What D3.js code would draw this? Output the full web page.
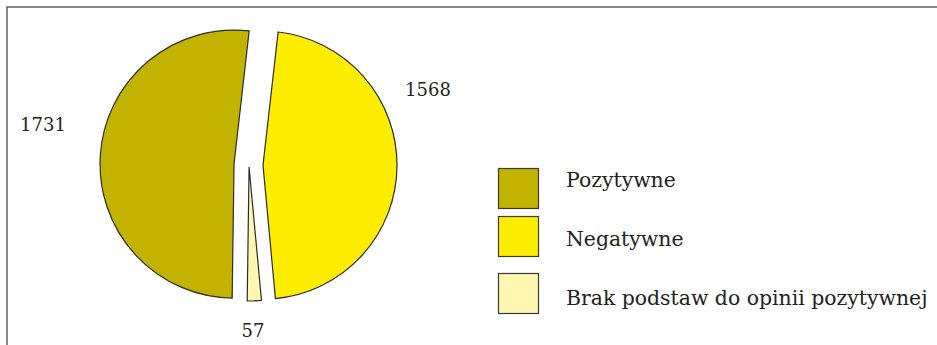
<!DOCTYPE html>
<html>
<head>
<meta charset="utf-8">
<script src="https://cdn.jsdelivr.net/npm/d3@7"></script>
<style>
  html, body { margin: 0; padding: 0; background: #fff; }
  svg { display: block; }
</style>
</head>
<body>
<svg id="chart" width="937" height="345"></svg>
<script>
// Opinion categories (legend order) and their counts
const categories = ["Pozytywne", "Negatywne", "Brak podstaw do opinii pozytywnej"];
const values = [1731, 1568, 57];
const colors = ["#c2b300", "#ffed00", "#fff6b2"];

// Layout
const W = 937, H = 345;
const center = { x: 249, y: 165 };
const radius = 134;
const explode = [15, 14, 2];          // pull-out distance of each slice
const startDeg = -179.2;              // first slice begins just past 6 o'clock
const labelAnchor = [                 // where each value label sits
  { x: 43, y: 131 },
  { x: 428, y: 96 },
  { x: 253, y: 337 }
];
const legend = {
  x: 498, box: 40, textX: 566,
  boxY: [168, 216, 273],
  textY: [187, 246, 305]
};

const svg = d3.select("#chart");

// Outer frame (open to the right and bottom)
svg.append("rect")
  .attr("x", 7).attr("y", 7)
  .attr("width", W + 20).attr("height", H + 20)
  .attr("fill", "none")
  .attr("stroke", "#4a4a4a")
  .attr("stroke-width", 1.3);

const rad = Math.PI / 180;
const pie = d3.pie().sort(null)
  .startAngle(startDeg * rad)
  .endAngle(startDeg * rad + 2 * Math.PI);
const arcs = pie(values);
const arc = d3.arc().innerRadius(0).outerRadius(radius);

const g = svg.append("g").attr("transform", `translate(${center.x},${center.y})`);

g.selectAll("path.slice")
  .data(arcs)
  .join("path")
  .attr("class", "slice")
  .attr("d", arc)
  .attr("transform", (d, i) => {
    const a = (d.startAngle + d.endAngle) / 2;
    return `translate(${Math.sin(a) * explode[i]},${-Math.cos(a) * explode[i]})`;
  })
  .attr("fill", (d, i) => colors[i])
  .attr("stroke", "#2b2b2b")
  .attr("stroke-width", 1.2)
  .attr("stroke-linejoin", "miter");

// Value labels
svg.selectAll("text.value")
  .data(arcs)
  .join("text")
  .attr("class", "value")
  .attr("x", (d, i) => labelAnchor[i].x)
  .attr("y", (d, i) => labelAnchor[i].y)
  .attr("text-anchor", "middle")
  .attr("font-family", "'DejaVu Serif', serif")
  .attr("font-size", 18)
  .attr("fill", "#222")
  .text(d => d.data);

// Legend
const items = svg.append("g").selectAll("g.item")
  .data(categories)
  .join("g")
  .attr("class", "item");

items.append("rect")
  .attr("x", legend.x + 0.5)
  .attr("y", (d, i) => legend.boxY[i] + 0.5)
  .attr("width", legend.box)
  .attr("height", legend.box)
  .attr("fill", (d, i) => colors[i])
  .attr("stroke", "#3a3a3a")
  .attr("stroke-width", 1.2);

items.append("text")
  .attr("x", legend.textX)
  .attr("y", (d, i) => legend.textY[i])
  .attr("font-family", "'DejaVu Serif', serif")
  .attr("font-size", 20.4)
  .attr("fill", "#222")
  .text(d => d);
</script>
</body>
</html>
